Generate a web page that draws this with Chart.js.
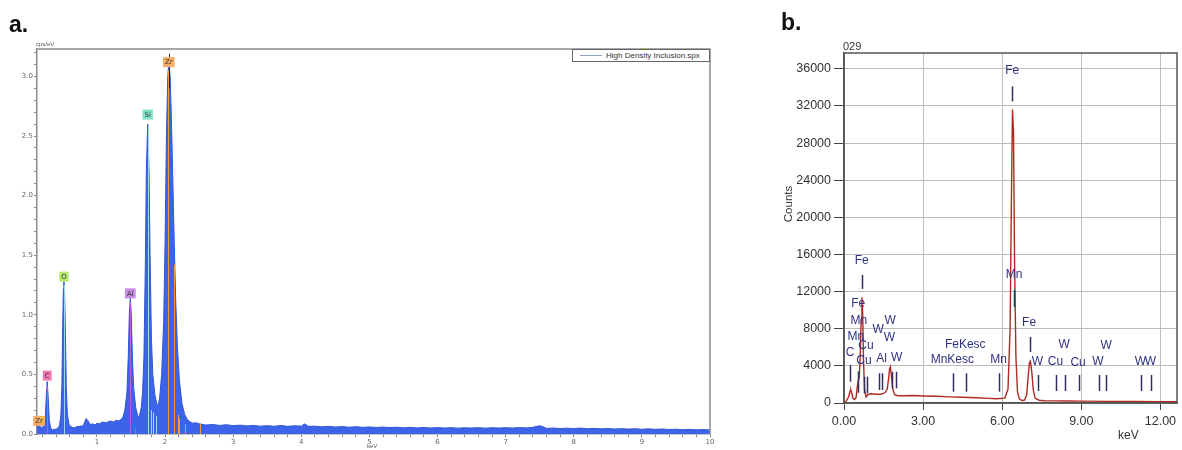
<!DOCTYPE html>
<html>
<head>
<meta charset="utf-8">
<script src="https://cdn.jsdelivr.net/npm/chart.js@4.4.1/dist/chart.umd.min.js"></script>
<style>
  body { margin: 0; background: #fff; width: 1182px; height: 450px; position: relative; overflow: hidden;
         font-family: "Liberation Sans", Arial, sans-serif; }
  .box { position: absolute; }
  .txt { position: absolute; white-space: nowrap; z-index: 2; }
  .tag { font-weight: bold; font-size: 23px; color: #111; }
  #legendA { position: absolute; left: 572px; top: 49px; width: 138px; height: 13px; border: 1px solid #666;
             background: #fff; z-index: 2; box-sizing: border-box; }
  #legendA .ln { position: absolute; left: 7px; top: 5px; width: 22px; height: 0; border-top: 1px solid #8fa3c9; }
  #legendA .lb { position: absolute; left: 33px; top: 0px; font-size: 8px; line-height: 11px; color: #333; }
</style>
</head>
<body>
<div class="txt tag" style="left:9px; top:11px;">a.</div>
<div class="txt tag" style="left:781px; top:9px;">b.</div>

<div class="box" style="left:0; top:0; width:740px; height:450px;"><canvas id="chartA" width="740" height="450"></canvas></div>
<div class="box" style="left:760px; top:0; width:422px; height:450px;"><canvas id="chartB" width="422" height="450"></canvas></div>

<div class="txt" style="left:36px; top:41px; font-size:6px; color:#555;">cps/eV</div>
<div class="txt" style="left:367px; top:443px; font-size:6px; color:#555;">keV</div>
<div id="legendA"><div class="ln"></div><div class="lb">High Density Inclusion.spx</div></div>

<div class="txt" style="left:843px; top:40px; font-size:11px; color:#333;">029</div>
<div class="txt" style="left:768px; top:198px; font-size:11.5px; color:#333; transform:rotate(-90deg); width:40px; text-align:center;">Counts</div>
<div class="txt" style="left:1118px; top:428px; font-size:12px; color:#333;">keV</div>

<script>
// ---------- panel a : spectrum (keV -> cps/eV)
const aKeV = [0.12, 0.15, 0.18, 0.20, 0.22, 0.24, 0.255, 0.27, 0.285, 0.30, 0.32, 0.35, 0.39, 0.42, 0.45,
  0.47, 0.485, 0.497, 0.507, 0.515, 0.525, 0.537, 0.55, 0.565, 0.59, 0.62, 0.66, 0.70, 0.75, 0.80, 0.84, 0.87,
  0.90, 0.94, 0.97, 1.00, 1.04, 1.08, 1.12, 1.16, 1.20, 1.24, 1.28, 1.32, 1.35, 1.38, 1.41, 1.44, 1.46, 1.475,
  1.49, 1.505, 1.52, 1.54, 1.57, 1.60, 1.62, 1.65, 1.67, 1.69, 1.71, 1.725, 1.745, 1.765, 1.78, 1.80, 1.82,
  1.85, 1.88, 1.90, 1.92, 1.95, 1.98, 2.00, 2.02, 2.04, 2.055, 2.075, 2.095, 2.115, 2.135, 2.155, 2.18, 2.21,
  2.25, 2.29, 2.33, 2.37, 2.41, 2.45,
  2.5, 2.6, 2.7, 2.8, 2.9, 3.0, 3.1, 3.2, 3.3, 3.4, 3.5, 3.6, 3.7, 3.8, 3.9, 4.0, 4.05, 4.1, 4.2, 4.3, 4.4,
  4.5, 4.6, 4.7, 4.8, 4.9, 5.0, 5.1, 5.2, 5.3, 5.4, 5.5, 5.6, 5.7, 5.8, 5.9, 6.0, 6.1, 6.2, 6.3, 6.4, 6.5,
  6.6, 6.7, 6.8, 6.9, 7.0, 7.1, 7.2, 7.3, 7.4, 7.5, 7.55, 7.6, 7.7, 7.8, 7.9, 8.0, 8.1, 8.2, 8.3, 8.4, 8.5,
  8.6, 8.7, 8.8, 8.9, 9.0, 9.1, 9.2, 9.3, 9.4, 9.5, 9.6, 9.7, 9.8, 9.9, 10.0];
const aCps = [0.06, 0.08, 0.05, 0.06, 0.06, 0.12, 0.3, 0.44, 0.3, 0.12, 0.05, 0.035, 0.04, 0.045, 0.07,
  0.15, 0.4, 0.9, 1.22, 1.28, 1.2, 0.85, 0.4, 0.17, 0.08, 0.06, 0.05, 0.06, 0.065, 0.07, 0.13, 0.11,
  0.08, 0.085, 0.075, 0.09, 0.085, 0.1, 0.095, 0.1, 0.11, 0.1, 0.115, 0.11, 0.12, 0.14, 0.2, 0.35, 0.65, 1.0,
  1.14, 1.0, 0.65, 0.38, 0.22, 0.15, 0.14, 0.22, 0.35, 0.65, 1.4, 2.2, 2.6, 2.2, 1.5, 0.8, 0.5,
  0.33, 0.25, 0.24, 0.3, 0.5, 0.95, 1.6, 2.5, 3.0, 3.12, 3.0, 2.6, 2.1, 1.6, 1.15, 0.75, 0.45,
  0.25, 0.16, 0.12, 0.1, 0.09, 0.095,
  0.085, 0.075, 0.08, 0.072, 0.078, 0.07, 0.074, 0.068, 0.072, 0.066, 0.07, 0.065, 0.071, 0.064, 0.069, 0.066, 0.085, 0.064, 0.066, 0.06, 0.064,
  0.058, 0.062, 0.057, 0.061, 0.056, 0.059, 0.055, 0.058, 0.054, 0.057, 0.052, 0.056, 0.051, 0.055, 0.05, 0.054, 0.05, 0.053, 0.049, 0.052, 0.05,
  0.053, 0.049, 0.052, 0.05, 0.053, 0.05, 0.054, 0.051, 0.056, 0.07, 0.06, 0.047, 0.05, 0.046, 0.049, 0.045, 0.05, 0.044, 0.047, 0.043, 0.046,
  0.042, 0.045, 0.041, 0.044, 0.04, 0.043, 0.039, 0.042, 0.038, 0.04, 0.036, 0.039, 0.035, 0.037, 0.034];

// element tags (label, keV, cps)
const aTags = ['Zr', 'C', 'O', 'Al', 'Si', 'Zr'];
const aTagKeV = [0.15, 0.27, 0.515, 1.49, 1.745, 2.055];
const aTagCps = [0.11, 0.49, 1.32, 1.18, 2.68, 3.12];

// line markers (keV, top in cps, element)
const aLineKeV = [0.27, 0.515, 1.49, 1.56, 1.745, 1.79, 1.83, 1.87, 2.045, 2.125, 2.19, 2.21, 2.30, 2.51];
const aLineTop = [0.40, 1.25, 1.10, 0.05, 2.55, 0.20, 0.18, 0.15, 3.05, 1.42, 0.16, 0.13, 0.08, 0.09];
const aLineEl  = ['C', 'O', 'Al', 'Al', 'Si', 'Si', 'Si', 'Si', 'Zr', 'Zr', 'Zr', 'Zr', 'Zr', 'Zr'];

const aYLabels = [0.0, 0.5, 1.0, 1.5, 2.0, 2.5, 3.0];
const aXLabels = [1, 2, 3, 4, 5, 6, 7, 8, 9, 10];

// ---------- panel b : spectrum (keV -> counts)
const bKeV = [0.00, 0.10, 0.18, 0.23, 0.26, 0.30, 0.34, 0.40, 0.46, 0.50, 0.54, 0.58, 0.62, 0.65, 0.68, 0.71,
  0.74, 0.78, 0.84, 0.90, 1.00, 1.20, 1.40, 1.55, 1.64, 1.69, 1.73, 1.76, 1.80, 1.85, 1.92, 2.05, 2.3, 2.6,
  3.0, 3.5, 4.0, 4.5, 5.0, 5.5, 5.8, 6.1, 6.22, 6.30, 6.35, 6.39, 6.43, 6.47, 6.52, 6.58, 6.65, 6.75, 6.85,
  6.93, 6.98, 7.03, 7.07, 7.12, 7.18, 7.25, 7.4, 7.6, 8.0, 8.5, 9.0, 10.0, 11.0, 12.0, 12.63];
const bCounts = [0, 250, 700, 1300, 1400, 1000, 500, 380, 600, 1700, 2400, 2800, 5500, 9000, 11400, 9500,
  4500, 1400, 650, 900, 1000, 950, 950, 1100, 1500, 2600, 3700, 3900, 2900, 1500, 900, 780, 780, 800,
  760, 720, 660, 620, 560, 500, 460, 520, 1500, 8000, 22000, 31600, 29000, 15000, 5000, 1200, 450, 260, 320,
  900, 2600, 4300, 4500, 3400, 1400, 500, 300, 250, 230, 210, 200, 180, 170, 150, 130];

const bTags = ['Fe', 'Fe', 'Mn', 'Mn', 'Cu', 'C', 'Cu', 'W', 'W', 'W', 'Al', 'W', 'FeKesc', 'MnKesc', 'Mn',
  'Fe', 'Mn', 'Fe', 'W', 'Cu', 'W', 'Cu', 'W', 'W', 'W', 'W'];
const bTagKeV = [0.67, 0.54, 0.56, 0.45, 0.83, 0.23, 0.76, 1.30, 1.75, 1.72, 1.43, 2.00, 4.60, 4.11, 5.86,
  6.38, 6.45, 7.02, 7.34, 8.02, 8.35, 8.88, 9.63, 9.94, 11.24, 11.62];
const bTagCounts = [15300, 10750, 8840, 7150, 6180, 5420, 4530, 7870, 8840, 7080, 4820, 4930, 6330, 4640, 4710,
  35800, 13800, 8625, 4450, 4400, 6250, 4350, 4400, 6140, 4400, 4400];

// marker ticks (keV, low, high in counts)
const bMarkKeV = [0.23, 0.52, 0.77, 0.86, 1.34, 1.43, 1.81, 1.97, 4.13, 4.62, 5.89, 7.36, 8.04, 8.37, 8.93,
  9.66, 9.95, 11.28, 11.66, 0.68, 6.38, 6.44, 7.04];
const bMarkLo = [2300, 1100, 1040, 1040, 1400, 1400, 1580, 1580, 1220, 1220, 1220, 1290, 1290, 1290, 1290,
  1290, 1290, 1290, 1290, 12290, 32480, 10350, 5500];
const bMarkHi = [4100, 3400, 2840, 2840, 3200, 3200, 3370, 3370, 3200, 3200, 3200, 3020, 3020, 3020, 3020,
  3020, 3020, 3020, 3020, 13800, 34100, 12180, 7115];

const bXLabels = [0, 3, 6, 9, 12];
const bYLabels = [0, 4000, 8000, 12000, 16000, 20000, 24000, 28000, 32000, 36000];

// ---------- drawing helpers
const tagColors = { Zr: '#f7ad68', C: '#f27ab0', O: '#b9ea6c', Al: '#c98ae6', Si: '#80e2c6' };
const lineColors = { Zr: '#f09a3a', C: '#b05ee0', O: '#9ad6f2', Al: '#a868dc', Si: '#9adcf2' };

const panelAMarks = {
  id: 'panelAMarks',
  afterDatasetsDraw(chart) {
    const { ctx, chartArea: a, scales: { x, y } } = chart;
    ctx.save();
    ctx.lineWidth = 1;
    aLineKeV.forEach((e, i) => {
      const px = Math.round(x.getPixelForValue(e)) + 0.5;
      ctx.strokeStyle = lineColors[aLineEl[i]];
      ctx.beginPath();
      ctx.moveTo(px, y.getPixelForValue(0));
      ctx.lineTo(px, y.getPixelForValue(aLineTop[i]));
      ctx.stroke();
    });
    // thin black marker above Zr peak
    const zx = Math.round(x.getPixelForValue(2.055)) + 0.5;
    ctx.strokeStyle = '#222';
    ctx.beginPath();
    ctx.moveTo(zx, y.getPixelForValue(2.9));
    ctx.lineTo(zx, y.getPixelForValue(3.19));
    ctx.stroke();

    ctx.font = '7px "DejaVu Sans", sans-serif';
    ctx.textAlign = 'center';
    ctx.textBaseline = 'middle';
    aTags.forEach((t, i) => {
      const px = x.getPixelForValue(aTagKeV[i]);
      const py = y.getPixelForValue(aTagCps[i]);
      const w = ctx.measureText(t).width + 4;
      ctx.fillStyle = tagColors[t];
      ctx.fillRect(px - w / 2, py - 5, w, 10);
      ctx.fillStyle = '#333';
      ctx.fillText(t, px, py + 0.5);
    });

    // top and right frame
    ctx.strokeStyle = '#8c8c8c';
    ctx.lineWidth = 1.5;
    ctx.beginPath();
    ctx.moveTo(a.left, a.top);
    ctx.lineTo(a.right, a.top);
    ctx.lineTo(a.right, a.bottom);
    ctx.stroke();
    ctx.restore();
  }
};

const panelBMarks = {
  id: 'panelBMarks',
  afterDatasetsDraw(chart) {
    const { ctx, chartArea: a, scales: { x, y } } = chart;
    ctx.save();
    ctx.strokeStyle = '#2c2f60';
    ctx.lineWidth = 1.5;
    bMarkKeV.forEach((e, i) => {
      const px = Math.round(x.getPixelForValue(e)) + 0.5;
      ctx.beginPath();
      ctx.moveTo(px, y.getPixelForValue(bMarkLo[i]));
      ctx.lineTo(px, y.getPixelForValue(bMarkHi[i]));
      ctx.stroke();
    });
    ctx.font = '12px "Liberation Sans", Arial, sans-serif';
    ctx.textAlign = 'center';
    ctx.textBaseline = 'middle';
    ctx.fillStyle = '#2f3282';
    bTags.forEach((t, i) => {
      ctx.fillText(t, x.getPixelForValue(bTagKeV[i]), y.getPixelForValue(bTagCounts[i]));
    });
    // plot frame
    ctx.strokeStyle = '#555';
    ctx.lineWidth = 1.5;
    ctx.strokeRect(a.left, a.top, a.right - a.left, a.bottom - a.top);
    ctx.restore();
  }
};

function near(v, list) { return list.some(l => Math.abs(l - v) < 1e-6); }

// minor tick positions for panel a
const aXTicks = [];
for (let k = 1; k <= 50; k++) aXTicks.push(+(k * 0.2).toFixed(2));
const aYTicks = [];
for (let k = 0; k <= 32; k++) aYTicks.push(+(k * 0.1).toFixed(2));

new Chart(document.getElementById('chartA'), {
  type: 'line',
  data: {
    datasets: [{
      data: aKeV.map((e, i) => ({ x: e, y: aCps[i] })),
      borderColor: '#2f55d8',
      backgroundColor: '#3d64e8',
      borderWidth: 1,
      fill: 'origin',
      pointRadius: 0,
      tension: 0
    }]
  },
  options: {
    responsive: false,
    animation: false,
    layout: { padding: { top: 49, right: 30, left: 0, bottom: 0 } },
    plugins: { legend: { display: false }, tooltip: { enabled: false } },
    scales: {
      x: {
        type: 'linear', min: 0.12, max: 10,
        afterFit: s => { s.height = 16; },
        afterBuildTicks: s => { s.ticks = aXTicks.map(v => ({ value: v })); },
        ticks: {
          autoSkip: false, maxRotation: 0, padding: 1, color: '#666',
          font: { size: 7, family: '"DejaVu Sans", sans-serif' },
          callback: v => near(v, aXLabels) ? String(Math.round(v)) : ''
        },
        grid: { drawOnChartArea: false, tickLength: 3, color: '#888' },
        border: { color: '#8c8c8c', width: 1.5 }
      },
      y: {
        min: 0, max: 3.23,
        afterFit: s => { s.width = 37; },
        afterBuildTicks: s => { s.ticks = aYTicks.map(v => ({ value: v })); },
        ticks: {
          autoSkip: false, padding: 1, color: '#666',
          font: { size: 7, family: '"DejaVu Sans", sans-serif' },
          callback: v => near(v, aYLabels) ? v.toFixed(1) : ''
        },
        grid: { drawOnChartArea: false, tickLength: 3, color: '#888' },
        border: { color: '#8c8c8c', width: 1.5 }
      }
    }
  },
  plugins: [panelAMarks]
});

new Chart(document.getElementById('chartB'), {
  type: 'line',
  data: {
    datasets: [{
      data: bKeV.map((e, i) => ({ x: e, y: bCounts[i] })),
      borderColor: '#b02a22',
      borderWidth: 1.4,
      fill: false,
      pointRadius: 0,
      tension: 0
    }]
  },
  options: {
    responsive: false,
    animation: false,
    layout: { padding: { top: 53, right: 5, left: 0, bottom: 0 } },
    plugins: { legend: { display: false }, tooltip: { enabled: false } },
    scales: {
      x: {
        type: 'linear', min: 0, max: 12.63,
        afterFit: s => { s.height = 47; },
        afterBuildTicks: s => { s.ticks = bXLabels.map(v => ({ value: v })); },
        ticks: {
          autoSkip: false, maxRotation: 0, padding: 4, color: '#333',
          font: { size: 12.5, family: '"Liberation Sans", Arial, sans-serif' },
          callback: v => v.toFixed(2)
        },
        grid: { color: '#bdbdbd', lineWidth: 1, tickLength: 7, tickColor: '#444' },
        border: { color: '#555', width: 1.5 }
      },
      y: {
        min: 0, max: 37700,
        afterFit: s => { s.width = 84; },
        afterBuildTicks: s => { s.ticks = bYLabels.map(v => ({ value: v })); },
        ticks: {
          autoSkip: false, padding: 3, color: '#333',
          font: { size: 12.5, family: '"Liberation Sans", Arial, sans-serif' },
          callback: v => String(v)
        },
        grid: { color: '#bdbdbd', lineWidth: 1, tickLength: 10, tickColor: '#444' },
        border: { color: '#555', width: 1.5 }
      }
    }
  },
  plugins: [panelBMarks]
});
</script>
</body>
</html>
